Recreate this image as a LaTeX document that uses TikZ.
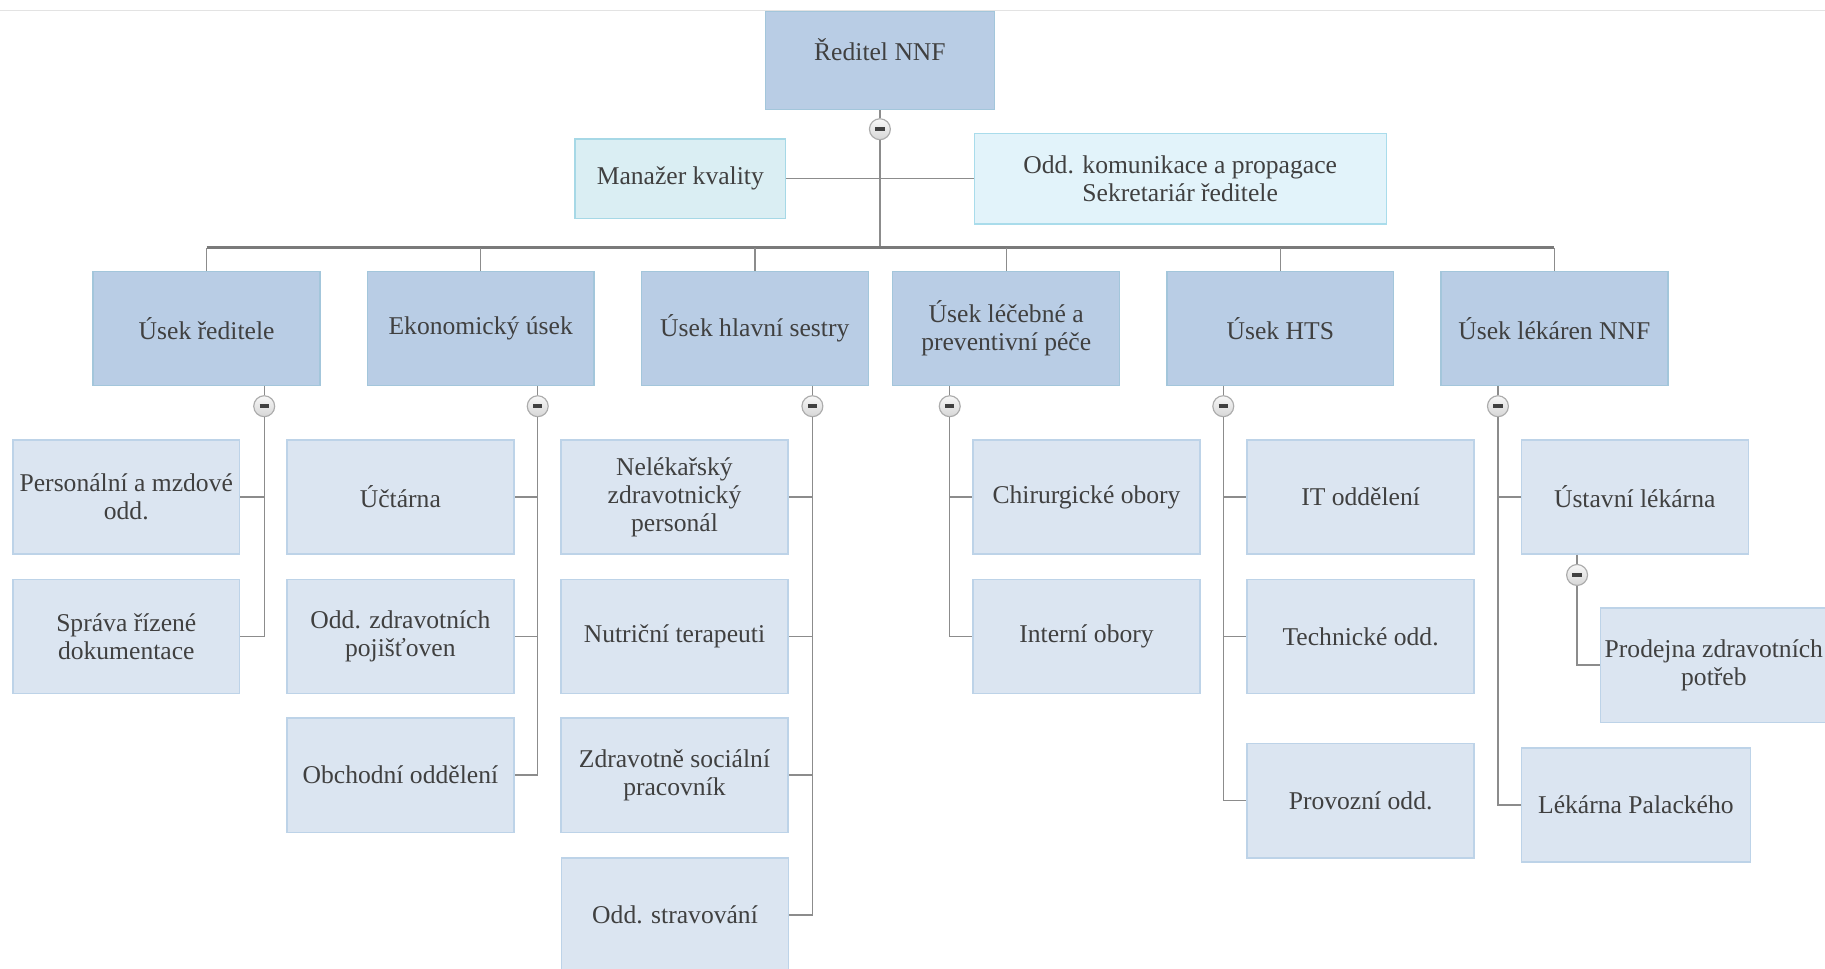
\documentclass[tikz,border=0pt]{standalone}
\usepackage{fontspec}
\setmainfont{Liberation Serif}
\definecolor{txtc}{HTML}{404040}
\definecolor{midblue}{HTML}{B9CDE5}
\definecolor{midborder}{HTML}{A3C6DB}
\definecolor{leafblue}{HTML}{DBE5F1}
\definecolor{leafborder}{HTML}{BDD3E8}
\definecolor{staffa}{HTML}{DAEEF3}
\definecolor{staffaborder}{HTML}{A6D8E6}
\definecolor{staffb}{HTML}{E2F3FA}
\definecolor{staffbborder}{HTML}{A9DCEB}
\definecolor{linec}{HTML}{8C8C8C}
\definecolor{busc}{HTML}{7A7A7A}
\begin{document}
\begin{tikzpicture}[x=0.5pt,y=-0.5pt,
  every node/.style={font=\fontsize{11}{12}\selectfont, text=txtc, align=center, inner sep=0pt},
  boxbase/.style={rectangle, minimum width=97.5pt, minimum height=49pt, line width=0.6pt},
  lvltop/.style={boxbase, minimum width=98.5pt, minimum height=42pt, fill=midblue, draw=midborder},
  lvlmid/.style={boxbase, fill=midblue, draw=midborder},
  lvlleaf/.style={boxbase, fill=leafblue, draw=leafborder},
  staffone/.style={rectangle, minimum width=90.5pt, minimum height=34pt, fill=staffa, draw=staffaborder, line width=0.6pt},
  stafftwo/.style={rectangle, minimum width=177pt, minimum height=39pt, fill=staffb, draw=staffbborder, line width=0.6pt},
  conn/.style={draw=linec, line width=0.6pt},
  busline/.style={draw=busc, line width=1.3pt},
  toggle/.style={circle, minimum size=9pt, draw=gray!65, top color=gray!6, bottom color=gray!32, line width=0.5pt}
]
\useasboundingbox (0,0) rectangle (1568,832);

% top rule
\coordinate (tl) at (0,9);
\coordinate (tr) at (1568,9);
\draw[draw=gray!22, line width=0.6pt] (tl) -- (tr);

% root and staff
\node[lvltop, label={[yshift=4.5pt]center:Ředitel NNF}] (root) at (756,52) {};
\node[toggle] (rb) at (756,111) {\color{black!75}\rule[-0.8pt]{4pt}{1.6pt}};
\node[staffone] (mk) at (584.5,153.5) {Manažer kvality};
\node[stafftwo] (ok) at (1014,153.5) {Odd. komunikace a propagace\\Sekretariár ředitele};
\coordinate (bus) at (756,213);

% level 2
\node[lvlmid] (u1) at (177.5,282) {Úsek ředitele};
\node[lvlmid] (u2) at (413,282) {Ekonomický úsek};
\node[lvlmid] (u3) at (648.5,282) {Úsek hlavní sestry};
\node[lvlmid] (u4) at (864.5,282) {Úsek léčebné a\\preventivní péče};
\node[lvlmid] (u5) at (1100,282) {Úsek HTS};
\node[lvlmid] (u6) at (1335.5,282) {Úsek lékáren NNF};

% toggles
\node[toggle] (b1) at (227,349) {\color{black!75}\rule[-0.8pt]{4pt}{1.6pt}};
\node[toggle] (b2) at (462,349) {\color{black!75}\rule[-0.8pt]{4pt}{1.6pt}};
\node[toggle] (b3) at (698,349) {\color{black!75}\rule[-0.8pt]{4pt}{1.6pt}};
\node[toggle] (b4) at (816,349) {\color{black!75}\rule[-0.8pt]{4pt}{1.6pt}};
\node[toggle] (b5) at (1051,349) {\color{black!75}\rule[-0.8pt]{4pt}{1.6pt}};
\node[toggle] (b6) at (1287,349) {\color{black!75}\rule[-0.8pt]{4pt}{1.6pt}};
\node[toggle] (b7) at (1355,494) {\color{black!75}\rule[-0.8pt]{4pt}{1.6pt}};

% level 3
\node[lvlleaf] (c11) at (108.5,427) {Personální a mzdové\\odd.};
\node[lvlleaf] (c12) at (108.5,547) {Správa řízené\\dokumentace};

\node[lvlleaf] (c21) at (344,427) {Účtárna};
\node[lvlleaf] (c22) at (344,547) {Odd. zdravotních\\pojišťoven};
\node[lvlleaf] (c23) at (344,666) {Obchodní oddělení};

\node[lvlleaf] (c31) at (579.5,427) {Nelékařský\\zdravotnický\\personál};
\node[lvlleaf] (c32) at (579.5,547) {Nutriční terapeuti};
\node[lvlleaf] (c33) at (579.5,666) {Zdravotně sociální\\pracovník};
\node[lvlleaf] (c34) at (580,786) {Odd. stravování};

\node[lvlleaf] (c41) at (933.5,427) {Chirurgické obory};
\node[lvlleaf] (c42) at (933.5,547) {Interní obory};

\node[lvlleaf] (c51) at (1169,427) {IT oddělení};
\node[lvlleaf] (c52) at (1169,547) {Technické odd.};
\node[lvlleaf] (c53) at (1169,688) {Provozní odd.};

\node[lvlleaf] (c61) at (1404.5,427) {Ústavní lékárna};
\node[lvlleaf] (c63) at (1472.5,571.5) {Prodejna zdravotních\\potřeb};
\node[lvlleaf, minimum width=98.5pt] (c62) at (1405.5,691.5) {Lékárna Palackého};

% connectors: root
\draw[conn] (root.south) -- (rb);
\draw[conn] (rb) -- (bus);
\draw[conn] (mk.east) -- (ok.west);
\draw[busline] (u1.north |- bus) -- (u6.north |- bus);
\foreach \u in {u1,u2,u3,u4,u5,u6} {\draw[conn] (\u.north |- bus) -- (\u.north);}

% connectors: level 2 to toggles
\draw[conn] (u1.south -| b1) -- (b1);
\draw[conn] (u2.south -| b2) -- (b2);
\draw[conn] (u3.south -| b3) -- (b3);
\draw[conn] (u4.south -| b4) -- (b4);
\draw[conn] (u5.south -| b5) -- (b5);
\draw[conn] (u6.south -| b6) -- (b6);
\draw[conn] (c61.south -| b7) -- (b7);

% connectors: toggles to children
\draw[conn] (b1) |- (c11.east);
\draw[conn] (b1) |- (c12.east);
\draw[conn] (b2) |- (c21.east);
\draw[conn] (b2) |- (c22.east);
\draw[conn] (b2) |- (c23.east);
\draw[conn] (b3) |- (c31.east);
\draw[conn] (b3) |- (c32.east);
\draw[conn] (b3) |- (c33.east);
\draw[conn] (b3) |- (c34.east);
\draw[conn] (b4) |- (c41.west);
\draw[conn] (b4) |- (c42.west);
\draw[conn] (b5) |- (c51.west);
\draw[conn] (b5) |- (c52.west);
\draw[conn] (b5) |- (c53.west);
\draw[conn] (b6) |- (c61.west);
\draw[conn] (b6) |- (c62.west);
\draw[conn] (b7) |- (c63.west);
\end{tikzpicture}
\end{document}
